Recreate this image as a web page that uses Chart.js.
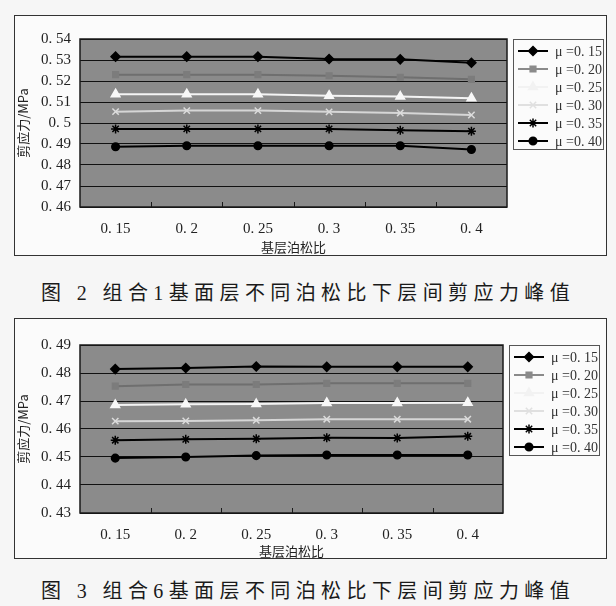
<!DOCTYPE html>
<html>
<head>
<meta charset="utf-8">
<script src="https://cdn.jsdelivr.net/npm/chart.js@4/dist/chart.umd.min.js"></script>
<style>
  html,body{margin:0;padding:0;background:#f6f6f6;}
  body{width:616px;height:606px;position:relative;overflow:hidden;font-family:'Liberation Serif','Noto Sans CJK SC',serif;}
  .box{position:absolute;left:14px;width:591px;height:239px;border:1.5px solid #333;background:#fbfbfb;}
  .box canvas{position:absolute;left:0;top:0;}
  .cap{position:absolute;left:0;width:616px;text-align:center;font-size:20px;letter-spacing:5.4px;color:#1a1a1a;font-family:'Liberation Serif','Noto Sans CJK SC',serif;font-weight:400;}
</style>
</head>
<body>
<div class="box" style="top:15px;"><canvas id="c1" width="591" height="239"></canvas></div>
<div class="cap" style="top:277px;">图 2 组合1基面层不同泊松比下层间剪应力峰值</div>
<div class="box" style="top:318px;"><canvas id="c2" width="591" height="240"></canvas></div>
<div class="cap" style="top:575px;">图 3 组合6基面层不同泊松比下层间剪应力峰值</div>
<script>
// ---- data ----
const categories = ['0. 15','0. 2','0. 25','0. 3','0. 35','0. 4'];
const seriesLabels = ['μ =0. 15','μ =0. 20','μ =0. 25','μ =0. 30','μ =0. 35','μ =0. 40'];
const xTitle = '基层泊松比';
const yTitle = '剪应力/MPa';

const c1_mu015 = [0.5316,0.5316,0.5316,0.5305,0.5303,0.5287];
const c1_mu020 = [0.5230,0.5230,0.5230,0.5225,0.5218,0.5208];
const c1_mu025 = [0.5137,0.5137,0.5137,0.5130,0.5126,0.5118];
const c1_mu030 = [0.5054,0.5059,0.5059,0.5053,0.5048,0.5038];
const c1_mu035 = [0.4972,0.4972,0.4972,0.4972,0.4965,0.4961];
const c1_mu040 = [0.4887,0.4892,0.4892,0.4892,0.4892,0.4874];

const c2_mu015 = [0.4814,0.4818,0.4823,0.4822,0.4822,0.4822];
const c2_mu020 = [0.4753,0.4759,0.4759,0.4763,0.4763,0.4763];
const c2_mu025 = [0.4686,0.4688,0.4689,0.4693,0.4693,0.4694];
const c2_mu030 = [0.4628,0.4629,0.4631,0.4635,0.4635,0.4635];
const c2_mu035 = [0.4560,0.4563,0.4565,0.4569,0.4568,0.4574];
const c2_mu040 = [0.4496,0.4500,0.4505,0.4507,0.4507,0.4507];

const c1_yRange = [0.46, 0.54];
const c2_yRange = [0.43, 0.49];

// ---- styles ----
const styles = [
  {line:'#000000', point:'#000000', ps:'rectRot', r:4.5},
  {line:'#6f6f6f', point:'#7c7c7c', ps:'rect', r:4},
  {line:'#f4f4f4', point:'#f8f8f8', ps:'triangle', r:5},
  {line:'#d6d6d6', point:'#dcdcdc', ps:'crossRot', r:4.5},
  {line:'#000000', point:'#000000', ps:'star', r:4.5},
  {line:'#000000', point:'#000000', ps:'circle', r:3.8}
];
const legendLine = ['#000000','#8a8a8a','#f2f2f2','#e0e0e0','#000000','#000000'];
const legendMark = ['#000000','#8a8a8a','#f2f2f2','#e0e0e0','#000000','#000000'];

const FONT = "'Liberation Serif','Noto Sans CJK SC',serif";

const plotPlugin = {
  id:'plotDeco',
  beforeDraw(chart){
    const a = chart.chartArea, ctx = chart.ctx;
    ctx.save();
    ctx.fillStyle = '#8b8b8b';
    ctx.fillRect(a.left, a.top, a.right-a.left, a.bottom-a.top);
    ctx.restore();
  },
  beforeDatasetsDraw(chart){
    const a = chart.chartArea, ctx = chart.ctx;
    ctx.save();
    ctx.strokeStyle = '#1a1a1a';
    ctx.lineWidth = 1.5;
    ctx.strokeRect(a.left, a.top, a.right-a.left, a.bottom-a.top);
    const n = chart.data.labels.length;
    const band = (a.right-a.left)/n;
    ctx.lineWidth = 1;
    for(let i=1;i<n;i++){
      const x = Math.round(a.left + band*i)+0.5;
      ctx.beginPath(); ctx.moveTo(x, a.bottom); ctx.lineTo(x, a.bottom-5); ctx.stroke();
    }
    ctx.restore();
  },
  afterDraw(chart){
    const a = chart.chartArea, ctx = chart.ctx;
    const lx = a.right + 6, ly = a.top, lw = 90, lh = 110;
    ctx.save();
    ctx.fillStyle = '#fbfbfb';
    ctx.fillRect(lx, ly, lw, lh);
    ctx.strokeStyle = '#555';
    ctx.lineWidth = 1;
    ctx.strokeRect(lx+0.5, ly+0.5, lw, lh);
    chart.data.datasets.forEach((ds, i) => {
      const y = ly + 12 + i*18;
      ctx.strokeStyle = legendLine[i];
      ctx.lineWidth = 2;
      ctx.beginPath(); ctx.moveTo(lx+5, y); ctx.lineTo(lx+35, y); ctx.stroke();
      ctx.fillStyle = legendMark[i];
      ctx.strokeStyle = legendMark[i];
      ctx.lineWidth = 1.5;
      Chart.helpers.drawPoint(ctx, {pointStyle: ds.pointStyle, radius: ds.pointRadius, rotation:0, borderWidth:1.5}, lx+20, y);
      ctx.fillStyle = '#333';
      ctx.font = "14px " + FONT;
      ctx.textBaseline = 'middle';
      ctx.textAlign = 'left';
      ctx.fillText(ds.label, lx+42, y+1);
    });
    ctx.restore();
  }
};

function fmt(v){
  const s = String(parseFloat(v.toFixed(2)));
  return s.replace('.', '. ');
}

function makeChart(id, series, yRange, geom){
  const datasets = series.map((d,i) => ({
    label: seriesLabels[i],
    data: d,
    borderColor: styles[i].line,
    backgroundColor: styles[i].point,
    pointBackgroundColor: styles[i].point,
    pointBorderColor: styles[i].point,
    pointStyle: styles[i].ps,
    pointRadius: styles[i].r,
    pointBorderWidth: 1.5,
    borderWidth: 2,
    tension: 0,
    fill: false
  }));
  return new Chart(document.getElementById(id), {
    type:'line',
    data:{labels: categories, datasets},
    plugins:[plotPlugin],
    options:{
      responsive:false,
      animation:false,
      events:[],
      layout:{padding:{left:0, right:geom.right, top:geom.top, bottom:0}},
      plugins:{legend:{display:false}, tooltip:{enabled:false}},
      scales:{
        x:{
          type:'category',
          offset:true,
          grid:{display:false, drawTicks:false},
          border:{display:false},
          ticks:{font:{family:FONT, size:15}, color:'#222', padding:geom.xpad, maxRotation:0},
          title:{display:true, text:xTitle, font:{family:"'Noto Sans CJK SC',serif", size:13}, color:'#222', padding:{top:0,bottom:0}},
          afterFit(s){ s.height = geom.xh; }
        },
        y:{
          min: yRange[0], max: yRange[1],
          ticks:{stepSize:0.01, font:{family:FONT, size:15}, color:'#222', padding:9, callback:(v)=>fmt(v)},
          grid:{color:'#111', lineWidth:1, drawTicks:false},
          border:{display:false},
          title:{display:true, text:yTitle, font:{family:"'Noto Sans CJK SC',serif", size:13}, color:'#222', padding:{top:0,bottom:4}},
          afterFit(s){ s.width = geom.yw; }
        }
      }
    }
  });
}

makeChart('c1', [c1_mu015,c1_mu020,c1_mu025,c1_mu030,c1_mu035,c1_mu040], c1_yRange,
  {right:99, top:23, xh:48, yw:65, xpad:13});
makeChart('c2', [c2_mu015,c2_mu020,c2_mu025,c2_mu030,c2_mu035,c2_mu040], c2_yRange,
  {right:103, top:26, xh:46, yw:65, xpad:13});
</script>
</body>
</html>
